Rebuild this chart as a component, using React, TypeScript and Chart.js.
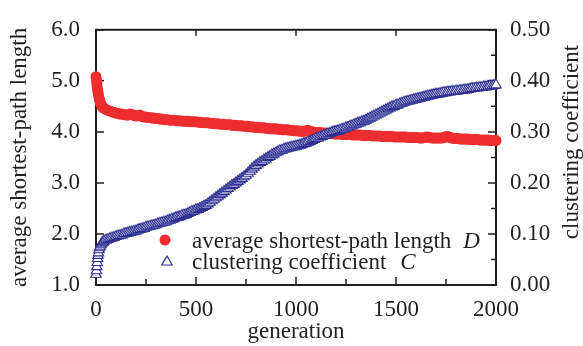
import React, { useEffect, useRef } from "react";
import { Chart, registerables } from "chart.js";

Chart.register(...registerables);

const generations = [
  0, 2, 4, 6, 8, 10, 12, 15, 18, 21, 25, 30, 35,
  40, 50, 60, 70, 80, 90,
  100, 110, 120, 130, 140, 150, 160, 170, 180, 190,
  200, 210, 220, 230, 240, 250, 260, 270, 280, 290,
  300, 310, 320, 330, 340, 350, 360, 370, 380, 390,
  400, 410, 420, 430, 440, 450, 460, 470, 480, 490,
  500, 510, 520, 530, 540, 550, 560, 570, 580, 590,
  600, 610, 620, 630, 640, 650, 660, 670, 680, 690,
  700, 710, 720, 730, 740, 750, 760, 770, 780, 790,
  800, 810, 820, 830, 840, 850, 860, 870, 880, 890,
  900, 910, 920, 930, 940, 950, 960, 970, 980, 990,
  1000, 1010, 1020, 1030, 1040, 1050, 1060, 1070, 1080, 1090,
  1100, 1110, 1120, 1130, 1140, 1150, 1160, 1170, 1180, 1190,
  1200, 1210, 1220, 1230, 1240, 1250, 1260, 1270, 1280, 1290,
  1300, 1310, 1320, 1330, 1340, 1350, 1360, 1370, 1380, 1390,
  1400, 1410, 1420, 1430, 1440, 1450, 1460, 1470, 1480, 1490,
  1500, 1510, 1520, 1530, 1540, 1550, 1560, 1570, 1580, 1590,
  1600, 1610, 1620, 1630, 1640, 1650, 1660, 1670, 1680, 1690,
  1700, 1710, 1720, 1730, 1740, 1750, 1760, 1770, 1780, 1790,
  1800, 1810, 1820, 1830, 1840, 1850, 1860, 1870, 1880, 1890,
  1900, 1910, 1920, 1930, 1940, 1950, 1960, 1970, 1980, 1990,
  2000,
];

// average shortest-path length D (left axis)
const pathLength = [
  5.08, 5.02, 4.95, 4.88, 4.82, 4.77, 4.72, 4.67, 4.62, 4.58, 4.54, 4.5, 4.48,
  4.46, 4.44, 4.42, 4.41, 4.39, 4.38,
  4.37, 4.36, 4.35, 4.35, 4.34, 4.33, 4.33, 4.35, 4.34, 4.32,
  4.31, 4.32, 4.33, 4.3, 4.29, 4.29, 4.28, 4.28, 4.27, 4.27,
  4.26, 4.26, 4.25, 4.25, 4.24, 4.24, 4.24, 4.23, 4.23, 4.23,
  4.22, 4.22, 4.22, 4.21, 4.21, 4.21, 4.21, 4.2, 4.2, 4.2,
  4.2, 4.19, 4.19, 4.18, 4.18, 4.18, 4.18, 4.17, 4.17, 4.16,
  4.16, 4.16, 4.15, 4.15, 4.15, 4.14, 4.14, 4.14, 4.13, 4.13,
  4.13, 4.12, 4.12, 4.12, 4.11, 4.11, 4.11, 4.1, 4.1, 4.09,
  4.09, 4.09, 4.08, 4.08, 4.08, 4.07, 4.07, 4.06, 4.06, 4.06,
  4.06, 4.05, 4.05, 4.04, 4.04, 4.04, 4.04, 4.03, 4.03, 4.02,
  4.02, 4.02, 4.01, 4.01, 4.01, 4.02, 4.03, 4.01, 4.0, 4.0,
  3.99, 3.99, 3.99, 3.98, 3.98, 3.98, 3.97, 3.97, 3.97, 3.96,
  3.96, 3.96, 3.96, 3.95, 3.95, 3.95, 3.95, 3.95, 3.94, 3.94,
  3.94, 3.94, 3.94, 3.93, 3.93, 3.93, 3.93, 3.93, 3.92, 3.92,
  3.92, 3.92, 3.92, 3.91, 3.91, 3.91, 3.91, 3.91, 3.91, 3.9,
  3.9, 3.9, 3.9, 3.9, 3.9, 3.9, 3.89, 3.89, 3.89, 3.89,
  3.89, 3.89, 3.88, 3.88, 3.89, 3.9, 3.9, 3.89, 3.88, 3.88,
  3.88, 3.88, 3.88, 3.88, 3.89, 3.91, 3.91, 3.89, 3.88, 3.87,
  3.87, 3.87, 3.86, 3.86, 3.86, 3.86, 3.86, 3.85, 3.85, 3.85,
  3.85, 3.85, 3.84, 3.84, 3.84, 3.84, 3.84, 3.83, 3.83, 3.83,
  3.83,
];

// clustering coefficient C (right axis)
const clustering = [
  0.021, 0.028, 0.036, 0.044, 0.052, 0.058, 0.063, 0.069, 0.073, 0.076, 0.079, 0.082, 0.084,
  0.086, 0.088, 0.089, 0.091, 0.092, 0.093,
  0.095, 0.096, 0.097, 0.098, 0.1, 0.101, 0.102, 0.103, 0.104, 0.105,
  0.106, 0.108, 0.109, 0.11, 0.111, 0.113, 0.114, 0.115, 0.116, 0.117,
  0.118, 0.12, 0.121, 0.122, 0.123, 0.124, 0.126, 0.127, 0.129, 0.13,
  0.132, 0.133, 0.134, 0.136, 0.137, 0.138, 0.14, 0.142, 0.144, 0.145,
  0.147, 0.148, 0.15, 0.152, 0.154, 0.156, 0.159, 0.162, 0.165, 0.168,
  0.171, 0.174, 0.177, 0.18, 0.183, 0.186, 0.189, 0.192, 0.195, 0.197,
  0.2, 0.203, 0.206, 0.209, 0.212, 0.215, 0.219, 0.223, 0.227, 0.231,
  0.234, 0.237, 0.24, 0.242, 0.245, 0.247, 0.25, 0.252, 0.255, 0.257,
  0.259, 0.261, 0.263, 0.264, 0.266, 0.267, 0.268, 0.269, 0.27, 0.271,
  0.272, 0.273, 0.274, 0.275, 0.277, 0.278, 0.28, 0.281, 0.283, 0.285,
  0.287, 0.288, 0.29, 0.291, 0.293, 0.294, 0.296, 0.297, 0.299, 0.3,
  0.301, 0.302, 0.303, 0.305, 0.306, 0.308, 0.309, 0.311, 0.312, 0.314,
  0.315, 0.317, 0.318, 0.32, 0.321, 0.323, 0.325, 0.327, 0.329, 0.331,
  0.333, 0.335, 0.337, 0.339, 0.341, 0.343, 0.345, 0.347, 0.349, 0.35,
  0.352, 0.353, 0.355, 0.356, 0.358, 0.359, 0.36, 0.361, 0.362, 0.363,
  0.364, 0.365, 0.366, 0.367, 0.368, 0.369, 0.37, 0.371, 0.372, 0.373,
  0.374, 0.374, 0.375, 0.376, 0.377, 0.377, 0.378, 0.378, 0.379, 0.379,
  0.38, 0.38, 0.381, 0.381, 0.382, 0.382, 0.383, 0.384, 0.385, 0.385,
  0.386, 0.386, 0.387, 0.387, 0.388, 0.388, 0.389, 0.39, 0.39, 0.391,
  0.392,
];

const xMajorTicks = [0, 500, 1000, 1500, 2000];
const xMinorTicks = [250, 750, 1250, 1750];
const leftTicks = [1, 2, 3, 4, 5, 6];
const rightMajorTicks = [0, 0.1, 0.2, 0.3, 0.4, 0.5];
const rightMinorTicks = [0.05, 0.15, 0.25, 0.35, 0.45];

const seriesDLabel = "average shortest-path length";
const seriesCLabel = "clustering coefficient";
const xTitle = "generation";
const leftTitle = "average shortest-path length";
const rightTitle = "clustering coefficient";

const RED = "#ee2d30";
const BLUE = "#2e3192";
const INK = "#231f20";
const FONT = "'Liberation Serif', 'Times New Roman', serif";
const FS = 23;

const framePlugin = {
  id: "frameTicks",
  beforeDatasetsDraw(chart: any) {
    const { ctx, chartArea: a, scales } = chart;
    const x = scales.x, yl = scales.y, yr = scales.y2;
    ctx.save();
    ctx.strokeStyle = INK;
    ctx.lineWidth = 1.5;
    ctx.beginPath();
    for (const v of xMajorTicks) {
      const p = x.getPixelForValue(v);
      ctx.moveTo(p, a.bottom); ctx.lineTo(p, a.bottom - 8);
      ctx.moveTo(p, a.top); ctx.lineTo(p, a.top + 6);
    }
    for (const v of xMinorTicks) {
      const p = x.getPixelForValue(v);
      ctx.moveTo(p, a.bottom); ctx.lineTo(p, a.bottom - 6);
    }
    for (const v of leftTicks) {
      const p = yl.getPixelForValue(v);
      ctx.moveTo(a.left, p); ctx.lineTo(a.left + 8, p);
    }
    for (const v of rightMajorTicks) {
      const p = yr.getPixelForValue(v);
      ctx.moveTo(a.right, p); ctx.lineTo(a.right - 8, p);
    }
    for (const v of rightMinorTicks) {
      const p = yr.getPixelForValue(v);
      ctx.moveTo(a.right, p); ctx.lineTo(a.right - 5, p);
    }
    ctx.stroke();
    ctx.lineWidth = 2;
    ctx.strokeRect(a.left, a.top, a.right - a.left, a.bottom - a.top);
    ctx.restore();
  },
  afterDraw(chart: any) {
    const { ctx } = chart;
    ctx.save();
    // legend markers
    ctx.fillStyle = RED;
    ctx.beginPath();
    ctx.arc(165, 240, 5.5, 0, Math.PI * 2);
    ctx.fill();
    ctx.strokeStyle = BLUE;
    ctx.lineWidth = 1.2;
    ctx.beginPath();
    const r = 6, cx = 167, cy = 262;
    ctx.moveTo(cx, cy - r);
    ctx.lineTo(cx + Math.sin((2 * Math.PI) / 3) * r, cy - Math.cos((2 * Math.PI) / 3) * r);
    ctx.lineTo(cx + Math.sin((4 * Math.PI) / 3) * r, cy - Math.cos((4 * Math.PI) / 3) * r);
    ctx.closePath();
    ctx.stroke();

    // legend texts
    ctx.fillStyle = INK;
    ctx.textBaseline = "alphabetic";
    ctx.textAlign = "left";
    ctx.font = `${FS}px ${FONT}`;
    ctx.fillText(seriesDLabel, 192, 248);
    const w1 = ctx.measureText(seriesDLabel).width;
    ctx.fillText(seriesCLabel, 192, 269);
    const w2 = ctx.measureText(seriesCLabel).width;
    ctx.font = `italic ${FS}px ${FONT}`;
    ctx.fillText("D", 192 + w1 + 12, 248);
    ctx.fillText("C", 192 + w2 + 14, 269);

    // right axis title (reads bottom to top)
    ctx.font = `${FS}px ${FONT}`;
    ctx.translate(578, 142);
    ctx.rotate(-Math.PI / 2);
    ctx.textAlign = "center";
    ctx.fillText(rightTitle, 0, 0);
    ctx.restore();
  },
};

export default function App() {
  const ref = useRef<HTMLCanvasElement>(null);
  useEffect(() => {
    if (!ref.current) return;
    const dPts = generations.map((g, i) => ({ x: g, y: pathLength[i] }));
    const cPts = generations.map((g, i) => ({ x: g, y: clustering[i] }));
    const chart = new Chart(ref.current, {
      type: "scatter",
      data: {
        datasets: [
          {
            label: seriesDLabel,
            data: dPts,
            yAxisID: "y",
            pointStyle: "circle",
            pointRadius: 5.5,
            pointBorderWidth: 0,
            backgroundColor: RED,
            borderColor: RED,
            clip: false,
            order: 2,
          },
          {
            label: seriesCLabel,
            data: cPts,
            yAxisID: "y2",
            pointStyle: "triangle",
            pointRadius: 6,
            pointBorderWidth: 1.1,
            backgroundColor: "#ffffff",
            borderColor: BLUE,
            clip: false,
            order: 1,
          },
        ],
      },
      options: {
        responsive: false,
        animation: false,
        devicePixelRatio: 1,
        layout: { padding: { top: 16, left: 0, right: 0, bottom: 0 } },
        plugins: { legend: { display: false }, tooltip: { enabled: false } },
        scales: {
          x: {
            type: "linear",
            min: 0,
            max: 2000,
            afterFit: (s: any) => { s.height = 61; },
            afterBuildTicks: (s: any) => { s.ticks = xMajorTicks.map((v) => ({ value: v })); },
            grid: { display: false, drawTicks: false },
            border: { display: false },
            ticks: { padding: 11, color: INK, font: { family: FONT, size: FS }, maxRotation: 0, callback: (v: any) => String(v) },
            title: { display: true, text: xTitle, color: INK, font: { family: FONT, size: FS }, padding: { top: 0, bottom: 0 } },
          },
          y: {
            type: "linear",
            position: "left",
            min: 1,
            max: 6,
            afterFit: (s: any) => { s.width = 96; },
            afterBuildTicks: (s: any) => { s.ticks = leftTicks.map((v) => ({ value: v })); },
            grid: { display: false, drawTicks: false },
            border: { display: false },
            ticks: { padding: 16, color: INK, font: { family: FONT, size: FS }, callback: (v: any) => Number(v).toFixed(1) },
            title: { display: true, text: leftTitle, color: INK, font: { family: FONT, size: FS }, padding: { top: 6, bottom: 0 } },
          },
          y2: {
            type: "linear",
            position: "right",
            min: 0,
            max: 0.5,
            afterFit: (s: any) => { s.width = 87; },
            afterBuildTicks: (s: any) => { s.ticks = rightMajorTicks.map((v) => ({ value: v })); },
            grid: { display: false, drawTicks: false },
            border: { display: false },
            ticks: { padding: 14, color: INK, font: { family: FONT, size: FS }, callback: (v: any) => Number(v).toFixed(2) },
          },
        },
      },
      plugins: [framePlugin],
    } as any);
    return () => chart.destroy();
  }, []);
  return (
    <div style={{ position: "absolute", left: 0, top: 0, width: 583, height: 346, background: "#fff" }}>
      <canvas ref={ref} width={583} height={346} />
    </div>
  );
}
